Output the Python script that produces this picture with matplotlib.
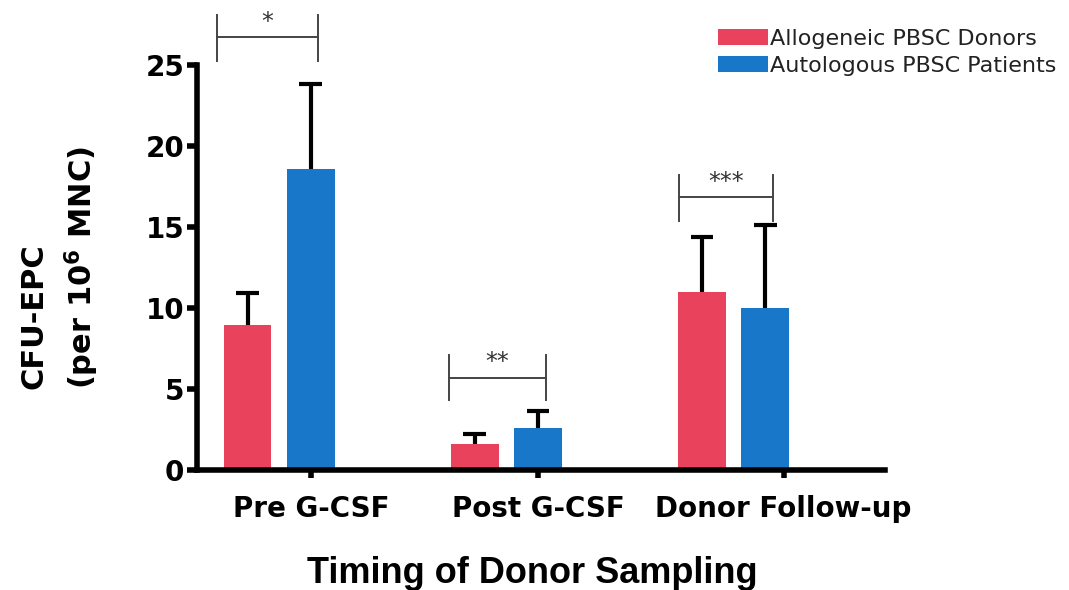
import numpy as np
import matplotlib.pyplot as plt

plt.rcParams['font.family'] = ['DejaVu Sans']

# data
groups = ['Pre G-CSF', 'Post G-CSF', 'Donor Follow-up']
allo_mean = [8.95, 1.6, 11.0]
allo_err = [2.0, 0.6, 3.4]
auto_mean = [18.6, 2.6, 10.0]
auto_err = [5.2, 1.05, 5.1]
sig_labels = ['*', '**', '***']

red = '#E8425C'
blue = '#1877C9'

fig = plt.figure(figsize=(10.69, 5.9), dpi=100)
ax = fig.add_axes([0.184, 0.2034, 0.644, 0.6864])

x = np.arange(len(groups))
w = 0.21
off = 0.139
cw = 0.05  # half cap width
ax.bar(x - off, allo_mean, w, color=red, label='Allogeneic PBSC Donors', zorder=2)
ax.bar(x + off, auto_mean, w, color=blue, label='Autologous PBSC Patients', zorder=2)

# upper error bars only
for xs, m, e in [(x - off, allo_mean, allo_err), (x + off, auto_mean, auto_err)]:
    top = np.array(m) + np.array(e)
    ax.vlines(xs, m, top, color='black', lw=3, zorder=3)
    ax.hlines(top, xs - cw, xs + cw, color='black', lw=3, zorder=3)

ax.set_xlim(-0.363, 2.667)
ax.set_ylim(0, 25)
ax.set_yticks([0, 5, 10, 15, 20, 25])
ax.set_xticks([0.14, 1.14, 2.22])
ax.set_xticklabels(groups)

for s in ['top', 'right']:
    ax.spines[s].set_visible(False)
for s in ['left', 'bottom']:
    ax.spines[s].set_linewidth(4)
ax.tick_params(axis='y', width=4, length=7, labelsize=20, pad=2)
ax.tick_params(axis='x', width=4, length=6, labelsize=20, pad=12)
for lab in ax.get_xticklabels() + ax.get_yticklabels():
    lab.set_fontweight('bold')

ax.set_ylabel('CFU-EPC\n(per 10$^{\\mathbf{6}}$ MNC)', fontsize=22,
              fontweight='bold', labelpad=32, linespacing=1.45,
              multialignment='left')
ax.set_xlabel('Timing of Donor Sampling', fontsize=26, fontweight='bold',
              labelpad=22, family='Liberation Sans')
ax.xaxis.set_label_coords(0.488, -0.212)

# significance brackets
brackets = [(-0.275, 0.17, 26.7, 25.25, 28.1),
            (0.747, 1.174, 5.68, 4.32, 7.1),
            (1.758, 2.172, 16.85, 15.4, 18.2)]
for (x0, x1, yh, ylo, yhi), lab in zip(brackets, sig_labels):
    kw = dict(color='#444444', lw=1.4, clip_on=False)
    ax.plot([x0, x1], [yh, yh], **kw)
    ax.plot([x0, x0], [ylo, yhi], **kw)
    ax.plot([x1, x1], [ylo, yhi], **kw)
    ax.text((x0 + x1) / 2, yhi - 0.45, lab, ha='center', va='center',
            fontsize=17, color='#333333', clip_on=False)

ax.legend(loc='upper left', bbox_to_anchor=(718 / 1069, 1 - 29 / 590),
          bbox_transform=fig.transFigure, frameon=False, fontsize=16,
          handlelength=2.25, handleheight=0.7, handletextpad=0.1,
          labelspacing=0.3, borderpad=0, borderaxespad=0,
          labelcolor='#222222')

fig.savefig('out.png', dpi=100)
